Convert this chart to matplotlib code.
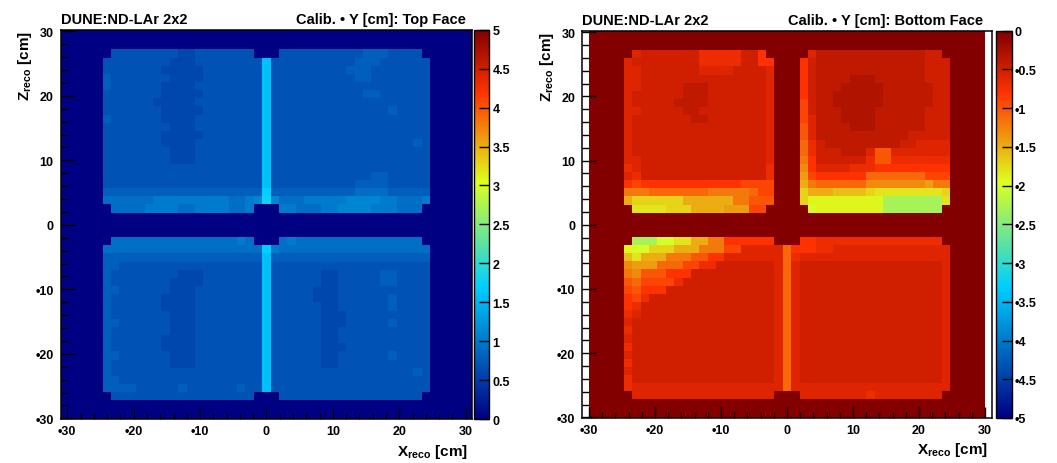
#!/usr/bin/env python3
"""
plot.py - 2x2 calibration maps (top / bottom face), ROOT COLZ look
"""

import numpy as np
import matplotlib.pyplot as plt
from matplotlib.colors import LinearSegmentedColormap
from matplotlib.ticker import MultipleLocator, FuncFormatter

plt.rcParams['font.family'] = ['Liberation Sans', 'DejaVu Sans']
plt.rcParams['font.weight'] = 'bold'
plt.rcParams['mathtext.fontset'] = 'custom'
plt.rcParams['mathtext.rm'] = 'Liberation Sans:bold'
plt.rcParams['mathtext.bf'] = 'Liberation Sans:bold'

# binning: 49 x 49 bins over [-31, 31] cm, bin 24 centred on 0
N_BINS = 49
X_EDGES = np.linspace(-31, 31, N_BINS + 1)
Y_EDGES = np.linspace(-31, 31, N_BINS + 1)

# one char per bin, value = index/10 ; '.' = empty bin
CODES = "0123456789abcdefghijklmnopqrstuvwxyz"

# rows are Z bins 21..2 (upper) and -2..-21 (lower); each row = cols -19..-1 | 0 | 1..19
top_face_upper = [
    ".77777777667777777." "." ".77777777778887777.",
    "7777777766677777777" "g" "7777777777888777777",
    "7777777666667777777" "g" "7777777778887777777",
    "8777777766667777777" "g" "7777777777887777777",
    "8777777666677777777" "g" "7777777777777777777",
    "7777777666667777777" "g" "7777777777788777777",
    "7777776666677777777" "g" "7777777777777777777",
    "7777777666667777777" "g" "7777777777777787777",
    "8777777666677777777" "g" "7777777777777777777",
    "7777777766677777777" "g" "7777777777777777777",
    "7777777666667777777" "g" "7777777777777777777",
    "7777777666677777777" "g" "7777777777777777787",
    "7777777766677777777" "g" "7777777777777777777",
    "7777777766677777777" "g" "7777777777777777777",
    "7777777777777777777" "g" "7777777777777777777",
    "7777777777777777777" "g" "7777777777778877777",
    "7777777777777777777" "g" "7777777777888877777",
    "8888888888888888888" "h" "8888888888999988888",
    "999999aaaaaaaaa99ab" "i" "b999aaaaabbbbaa999a",
    ".9999aaaa99aaaa99a." "." ".aa999aabbbbaaa999.",
]
top_face_lower = [
    ".999999999999999a9." "." ".9a999999999999999.",
    "9999999999999999999" "h" "a999999999999999999",
    "8888888888888888888" "g" "8888888888888888888",
    "8877777777777777777" "g" "7777777777777777777",
    "8777777776667777777" "g" "7777776677777887777",
    "8777777766667777777" "g" "7777776677777887777",
    "8877777766677777777" "g" "7777766677777777777",
    "8777777666677777777" "g" "7777766677777787777",
    "8777777666677777777" "g" "7777776677777787777",
    "8777777766677777777" "g" "7777776667777777777",
    "8877777766677777777" "g" "7777776667777787777",
    "8777777766677777777" "g" "7777776677777777777",
    "8777777666677777777" "g" "7777776677777777777",
    "8777777666677777777" "g" "7777776667777777777",
    "8877777766677777777" "g" "7777776677777787777",
    "8777777766677777777" "g" "7777776677777777777",
    "8777777777777777777" "g" "7777777777777777787",
    "8877777777777777777" "g" "7777777777777777777",
    "8888777778777777877" "g" "7777777777777777777",
    ".77777777777777777." "." ".77777777777777777.",
]

# bottom face: stored as magnitudes, plotted as negative values
bottom_face_upper = [
    ".6555555577777558.." "." "..6444444444444455.",
    "655555555777775588." "." ".854444444444444555",
    "665555555666655556." "." ".854444444444444555",
    "665555555555555556." "." ".854444333444444555",
    "665555544455555556." "." ".854443333344444455",
    "655555544455555556." "." ".854433333344444455",
    "655555444455555556." "." ".954433333344444455",
    "665555544555555556." "." ".954443333444444555",
    "655555554455555556." "." ".964443333444444555",
    "655555555555555556." "." ".a64444333444444555",
    "655555555555555556." "." ".a64444444444455555",
    "655555555555555556." "." ".b75444444444556666",
    "655555555555555556." "." ".b75554446aa6666666",
    "665555555555555556." "." ".c85555557aa7777777",
    "765555555555555557." "." ".d86666777888888888",
    "675555555555555557." "." ".e9888888bbbbbbb999",
    "898888888888889999." "." ".fcbbbbbbdddddddecc",
    "cccbbbbbbbcccccb99." "." ".hfffgggghiiiiiiiih",
    "fhhhhhhffffffccaaa." "." ".hjjjjjjjjjnnnnnnni",
    ".iiiihhhffffeee99.." "." "..kjjjjjjjjnnnnnnn.",
]
bottom_face_lower = [
    ".nnnkkiiffcc888888." "." ".88777777777777777.",
    "jkkhhhfffccc9966666" "b" "8887766666666666666",
    "gifffcccaa886666666" "b" "7666666666666666666",
    "deeebbb997755555556" "b" "6555555555555555556",
    "cdaaa88855555555556" "b" "6555555555555555556",
    "ab99997555555555556" "b" "6555555555555555556",
    "9a88855555555555556" "b" "6555555555555555556",
    "8975555555555555556" "b" "6555555555555555556",
    "8755555555555555556" "b" "6555555555555555556",
    "7655555555555555556" "b" "6555555555555555556",
    "6555555555555555556" "b" "6555555555555555556",
    "7555555555555555556" "b" "6555555555555555556",
    "6555555555555555556" "b" "6555555555555555556",
    "7555555555555555556" "b" "6555555555555555556",
    "6555555555555555556" "b" "6555555555555555556",
    "7555555555555555556" "b" "6555555555555555556",
    "6555555555555555556" "b" "6555555555555555556",
    "7555555555555555556" "b" "6555555555555555556",
    "7666666666666666666" "b" "6666666666666666666",
    ".66666666666666666." "." ".66666666766666666.",
]


def decode(rows_upper, rows_lower, sign):
    """Turn the row strings into a masked 49x49 histogram"""
    grid = np.full((N_BINS, N_BINS), np.nan)
    for rows, z_bins in ((rows_upper, range(21, 1, -1)),
                         (rows_lower, range(-2, -22, -1))):
        for row, jz in zip(rows, z_bins):
            assert len(row) == 39, (jz, len(row), row)
            for k, ch in enumerate(row):
                if ch != '.':
                    grid[jz + 24, k - 19 + 24] = sign * CODES.index(ch) / 10.0
    return np.ma.masked_invalid(grid)


top_face = decode(top_face_upper, top_face_lower, 1)
bottom_face = decode(bottom_face_upper, bottom_face_lower, -1)

# ROOT-style rainbow palette
cmap = LinearSegmentedColormap.from_list(
    'root_rainbow',
    [(0.00, (0.00, 0.00, 0.51)),
     (0.34, (0.00, 0.81, 1.00)),
     (0.61, (0.87, 1.00, 0.12)),
     (0.84, (1.00, 0.20, 0.00)),
     (1.00, (0.51, 0.00, 0.00))])


def root_fmt(v, pos=None):
    return f"{v:g}".replace('-', '\u2022')


def style_axes(ax):
    ax.set_xlim(-31, 31)
    ax.set_ylim(-30.1, 30.25)
    for a in (ax.xaxis, ax.yaxis):
        a.set_major_locator(MultipleLocator(10))
        a.set_minor_locator(MultipleLocator(2))
        a.set_major_formatter(FuncFormatter(root_fmt))
    ax.tick_params(which='both', direction='in', top=False, right=False,
                   labelsize=9, width=1.0, colors='black')
    ax.tick_params(axis='y', which='major', length=10, pad=5)
    ax.tick_params(axis='y', which='minor', length=5)
    ax.tick_params(axis='x', which='major', length=8, pad=4)
    ax.tick_params(axis='x', which='minor', length=4)
    for sp in ax.spines.values():
        sp.set_linewidth(1.1)
    ax.text(-0.087, 1.0, r'Z$_{\rm reco}$ [cm]', rotation=90, ha='center',
            va='top', fontsize=11, transform=ax.transAxes)
    ax.text(0.99, -0.058, r'X$_{\rm reco}$ [cm]', ha='right', va='top',
            fontsize=11, transform=ax.transAxes)


def style_cbar(cb, ticks):
    cb.set_ticks(ticks)
    cb.ax.yaxis.set_major_formatter(FuncFormatter(root_fmt))
    cb.ax.tick_params(direction='in', length=7, width=1.0, labelsize=9, pad=2)
    cb.ax.minorticks_off()
    cb.outline.set_linewidth(1.0)


fig = plt.figure(figsize=(10.57, 4.64), dpi=100)

# left panel: top face
ax1 = fig.add_axes([0.0574, 0.0948, 0.3894, 0.839])
cax1 = fig.add_axes([0.4487, 0.0948, 0.0144, 0.839])
ax1.set_facecolor(cmap(0.0))
m1 = ax1.pcolormesh(X_EDGES, Y_EDGES, top_face, cmap=cmap, vmin=0, vmax=5)
style_axes(ax1)
ax1.text(0.0, 1.017, 'DUNE:ND-LAr 2x2', ha='left', va='baseline',
         fontsize=10.5, transform=ax1.transAxes)
ax1.text(0.985, 1.017, 'Calib. \u2022 Y [cm]: Top Face', ha='right',
         va='baseline', fontsize=10.5, transform=ax1.transAxes)
cb1 = fig.colorbar(m1, cax=cax1)
style_cbar(cb1, np.arange(0, 5.01, 0.5))

# right panel: bottom face
ax2 = fig.add_axes([0.5509, 0.0970, 0.3873, 0.8347])
cax2 = fig.add_axes([0.9423, 0.0970, 0.0149, 0.8347])
ax2.set_facecolor('white')
ax2.axvspan(-30, 30, color=cmap(1.0), lw=0, zorder=0.5)
m2 = ax2.pcolormesh(X_EDGES, Y_EDGES, bottom_face, cmap=cmap, vmin=-5, vmax=0)
style_axes(ax2)
ax2.text(0.0, 1.017, 'DUNE:ND-LAr 2x2', ha='left', va='baseline',
         fontsize=10.5, transform=ax2.transAxes)
ax2.text(0.978, 1.017, 'Calib. \u2022 Y [cm]: Bottom Face', ha='right',
         va='baseline', fontsize=10.5, transform=ax2.transAxes)
cb2 = fig.colorbar(m2, cax=cax2)
style_cbar(cb2, np.arange(-5, 0.01, 0.5))

fig.savefig('out.png', dpi=100)
plt.close(fig)
